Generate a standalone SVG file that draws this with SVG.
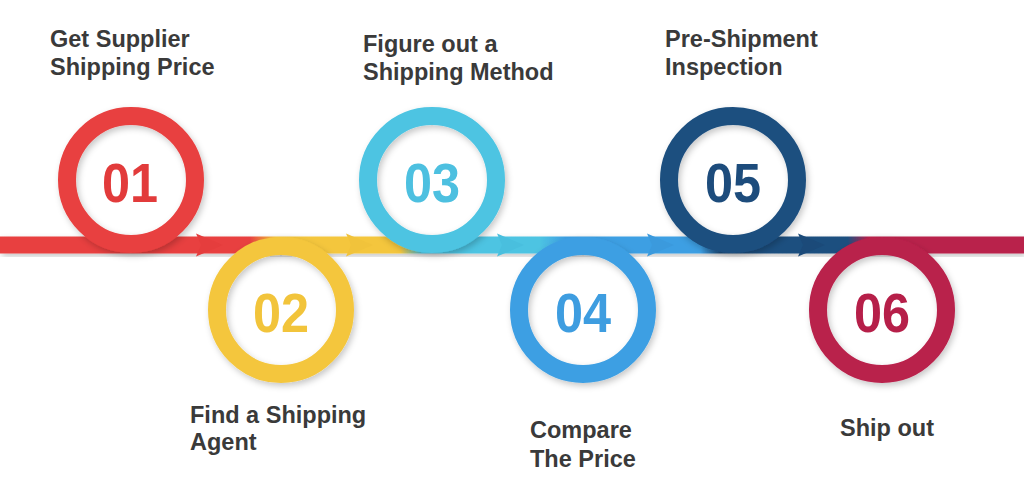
<svg xmlns="http://www.w3.org/2000/svg" width="1024" height="503" viewBox="0 0 1024 503">
  <style>
    .lbl { font-family: "Liberation Sans", Arial, sans-serif; font-weight: bold; font-size: 23.5px; fill: #3a3a3a; }
    .num { font-family: "Liberation Sans", Arial, sans-serif; font-weight: bold; font-size: 56px; text-anchor: middle; }
    .ring { fill: none; stroke-width: 18; }
  </style>
  <defs>
    <linearGradient id="band" gradientUnits="userSpaceOnUse" x1="0" y1="0" x2="1024" y2="0">
      <stop offset="0" stop-color="#E8403F"/>
      <stop offset="0.244" stop-color="#E8403F"/>
      <stop offset="0.269" stop-color="#F4C63D"/>
      <stop offset="0.391" stop-color="#F4C63D"/>
      <stop offset="0.412" stop-color="#4DC4E2"/>
      <stop offset="0.527" stop-color="#4DC4E2"/>
      <stop offset="0.552" stop-color="#3E9FE3"/>
      <stop offset="0.684" stop-color="#3E9FE3"/>
      <stop offset="0.703" stop-color="#1D4F7F"/>
      <stop offset="0.828" stop-color="#1D4F7F"/>
      <stop offset="0.848" stop-color="#B9204B"/>
      <stop offset="1" stop-color="#B9204B"/>
    </linearGradient>
    <filter id="sh" x="-20%" y="-20%" width="140%" height="140%">
      <feDropShadow dx="2" dy="3" stdDeviation="3" flood-color="#000" flood-opacity="0.22"/>
    </filter>
    <polygon id="arr" points="-3,-11.5 24,0 -3,11.5 2,0"/>
  </defs>

  <rect width="1024" height="503" fill="#ffffff"/>

  <g id="connectors">
    <rect x="0" y="236.5" width="1024" height="17" fill="url(#band)" filter="url(#sh)"/>
    <use href="#arr" x="199" y="245" fill="#E53D3D"/>
    <use href="#arr" x="349" y="245" fill="#F1C33B"/>
    <use href="#arr" x="500" y="245" fill="#49BFDE"/>
    <use href="#arr" x="650" y="245" fill="#3B9ADD"/>
    <use href="#arr" x="801" y="245" fill="#1B4A79"/>
  </g>

  <g id="node01">
    <circle class="ring" cx="131" cy="180" r="64" stroke="#E8403F" filter="url(#sh)"/>
    <text class="num" transform="translate(130 202) scale(0.9 1)" fill="#E23B3B">01</text>
    <text class="lbl" x="50" y="47">Get Supplier</text>
    <text class="lbl" x="50" y="75">Shipping Price</text>
  </g>

  <g id="node02">
    <circle class="ring" cx="281" cy="310" r="64" stroke="#F4C63D" filter="url(#sh)"/>
    <text class="num" transform="translate(281 332) scale(0.9 1)" fill="#F2C43B">02</text>
    <text class="lbl" x="190" y="423">Find a Shipping</text>
    <text class="lbl" x="190" y="450">Agent</text>
  </g>

  <g id="node03">
    <circle class="ring" cx="432" cy="180" r="64" stroke="#4DC4E2" filter="url(#sh)"/>
    <text class="num" transform="translate(432 202) scale(0.9 1)" fill="#4DC0E0">03</text>
    <text class="lbl" x="363" y="52">Figure out a</text>
    <text class="lbl" x="363" y="80">Shipping Method</text>
  </g>

  <g id="node04">
    <circle class="ring" cx="583" cy="310" r="64" stroke="#3E9FE3" filter="url(#sh)"/>
    <text class="num" transform="translate(583 332) scale(0.9 1)" fill="#3E9DE0">04</text>
    <text class="lbl" x="530" y="438">Compare</text>
    <text class="lbl" x="530" y="467">The Price</text>
  </g>

  <g id="node05">
    <circle class="ring" cx="733" cy="180" r="64" stroke="#1D4F7F" filter="url(#sh)"/>
    <text class="num" transform="translate(733 202) scale(0.9 1)" fill="#1D4C7C">05</text>
    <text class="lbl" x="665" y="47">Pre-Shipment</text>
    <text class="lbl" x="665" y="75">Inspection</text>
  </g>

  <g id="node06">
    <circle class="ring" cx="882" cy="310" r="64" stroke="#B9204B" filter="url(#sh)"/>
    <text class="num" transform="translate(882 332) scale(0.9 1)" fill="#B61F49">06</text>
    <text class="lbl" x="840" y="436">Ship out</text>
  </g>
</svg>
